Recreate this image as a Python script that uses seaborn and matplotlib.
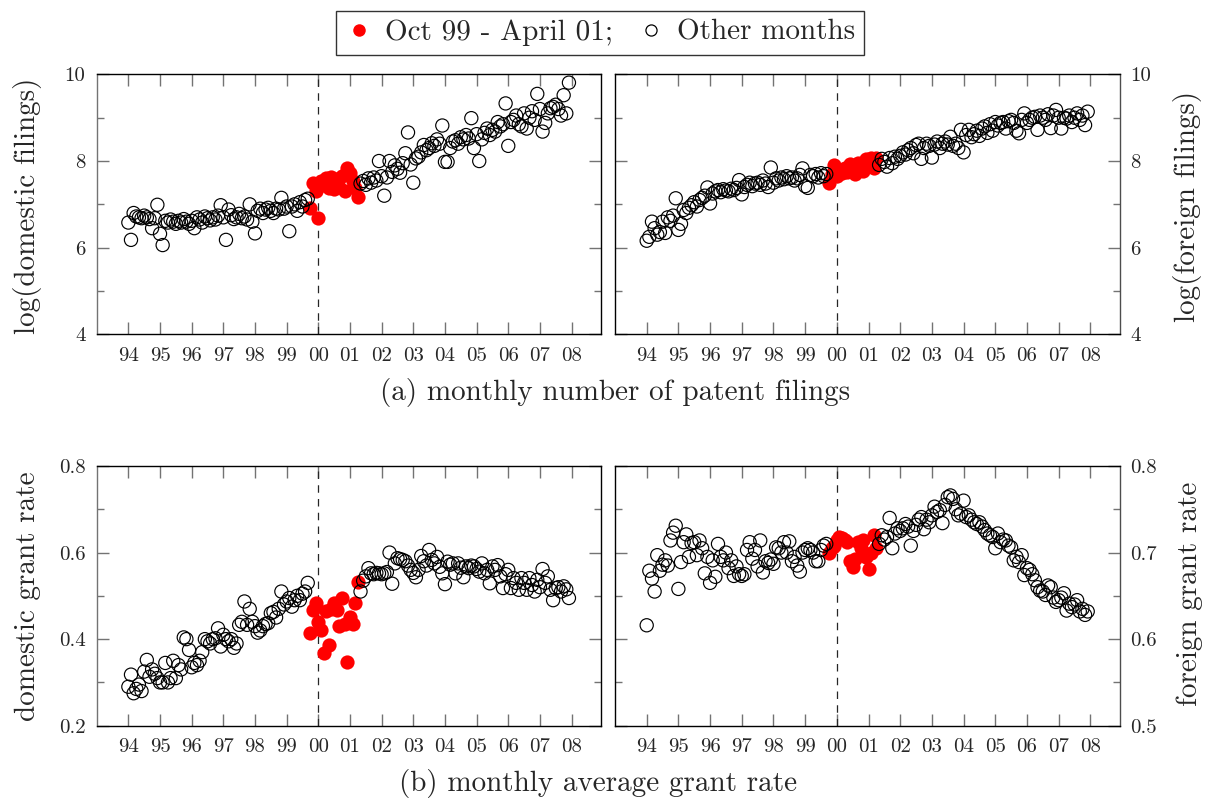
import numpy as np
import pandas as pd
import matplotlib
matplotlib.use('Agg')
import matplotlib.pyplot as plt
from matplotlib.lines import Line2D
import seaborn as sns

# ---------------- data (monthly, Jan 1994 - Dec 2007) ----------------
dom_filings = [
    6.58, 6.18, 6.80, 6.72, 6.70, 6.68, 6.74, 6.70, 6.66, 6.45, 6.68, 6.99,
    6.32, 6.06, 6.62, 6.58, 6.65, 6.60, 6.55, 6.62, 6.58, 6.66, 6.60, 6.55,
    6.62, 6.45, 6.70, 6.65, 6.58, 6.72, 6.68, 6.63, 6.70, 6.65, 6.74, 6.98,
    6.70, 6.18, 6.88, 6.75, 6.66, 6.70, 6.78, 6.68, 6.72, 6.65, 7.00, 6.60,
    6.33, 6.85, 6.90, 6.80, 6.88, 6.92, 6.85, 6.80, 6.90, 6.88, 7.15, 6.90,
    6.95, 6.38, 6.95, 7.00, 6.85, 7.05, 6.95, 7.10, 7.13, 6.91, 7.50, 7.30,
    6.69, 7.55, 7.45, 7.60, 7.38, 7.62, 7.35, 7.58, 7.40, 7.65, 7.30, 7.85,
    7.72, 7.55, 7.38, 7.18, 7.48, 7.54, 7.45, 7.60, 7.50, 7.62, 7.55, 8.00,
    7.65, 7.20, 7.62, 8.00, 7.75, 7.90, 7.82, 7.73, 7.95, 8.18, 8.66, 7.92,
    7.50, 8.06, 8.10, 8.20, 8.37, 8.25, 8.30, 8.41, 8.35, 8.50, 8.40, 8.82,
    7.98, 7.98, 8.30, 8.45, 8.48, 8.40, 8.55, 8.50, 8.60, 8.52, 8.99, 8.30,
    8.62, 8.00, 8.50, 8.65, 8.75, 8.60, 8.72, 8.68, 8.90, 8.80, 8.85, 9.33,
    8.35, 8.90, 8.95, 9.05, 8.85, 8.80, 9.10, 8.75, 9.00, 9.15, 8.95, 9.55,
    9.20, 8.68, 8.88, 9.10, 9.22, 9.25, 9.30, 9.20, 9.05, 9.52, 9.10, 9.81,
]
for_filings = [
    6.16, 6.25, 6.60, 6.45, 6.30, 6.36, 6.60, 6.34, 6.70, 6.62, 6.74, 7.14,
    6.41, 6.55, 6.87, 6.80, 6.92, 6.98, 7.05, 6.95, 7.10, 7.15, 7.20, 7.39,
    7.02, 7.25, 7.30, 7.33, 7.28, 7.35, 7.32, 7.30, 7.36, 7.33, 7.38, 7.56,
    7.23, 7.40, 7.45, 7.50, 7.42, 7.48, 7.50, 7.45, 7.55, 7.48, 7.40, 7.85,
    7.50, 7.60, 7.55, 7.62, 7.58, 7.65, 7.60, 7.62, 7.55, 7.60, 7.68, 7.83,
    7.42, 7.38, 7.68, 7.65, 7.70, 7.62, 7.72, 7.65, 7.70, 7.50, 7.70, 7.90,
    7.65, 7.80, 7.72, 7.85, 7.75, 7.92, 7.80, 7.70, 7.95, 7.85, 7.78, 8.05,
    7.90, 8.08, 7.85, 8.07, 7.91, 8.05, 7.98, 7.87, 8.07, 7.95, 8.10, 8.05,
    8.12, 8.20, 8.15, 8.25, 8.30, 8.18, 8.37, 8.40, 8.05, 8.30, 8.40, 8.35,
    8.08, 8.38, 8.45, 8.30, 8.40, 8.45, 8.38, 8.56, 8.35, 8.40, 8.30, 8.72,
    8.20, 8.60, 8.72, 8.55, 8.62, 8.70, 8.58, 8.75, 8.80, 8.65, 8.85, 8.70,
    8.90, 8.82, 8.88, 8.90, 8.75, 8.92, 8.95, 8.88, 8.70, 8.64, 8.95, 9.10,
    8.88, 8.95, 9.00, 9.02, 8.72, 9.05, 9.00, 8.95, 9.08, 8.76, 9.05, 9.18,
    9.00, 8.75, 9.00, 8.98, 9.05, 8.90, 9.00, 9.10, 8.95, 9.05, 8.83, 9.14,
]
dom_grant = [
    0.290, 0.318, 0.275, 0.285, 0.295, 0.280, 0.325, 0.352, 0.313, 0.330, 0.320, 0.310,
    0.300, 0.300, 0.345, 0.300, 0.310, 0.350, 0.310, 0.340, 0.330, 0.404, 0.400, 0.375,
    0.335, 0.345, 0.340, 0.350, 0.370, 0.400, 0.395, 0.390, 0.400, 0.402, 0.425, 0.383,
    0.410, 0.400, 0.395, 0.400, 0.380, 0.390, 0.433, 0.440, 0.487, 0.433, 0.470, 0.440,
    0.430, 0.415, 0.420, 0.430, 0.435, 0.437, 0.460, 0.463, 0.450, 0.470, 0.510, 0.480,
    0.487, 0.495, 0.475, 0.490, 0.500, 0.490, 0.505, 0.510, 0.530, 0.414, 0.468, 0.483,
    0.440, 0.420, 0.368, 0.464, 0.387, 0.470, 0.483, 0.468, 0.430, 0.495, 0.435, 0.348,
    0.452, 0.435, 0.483, 0.533, 0.510, 0.535, 0.545, 0.564, 0.552, 0.550, 0.553, 0.552,
    0.550, 0.552, 0.555, 0.600, 0.528, 0.575, 0.587, 0.585, 0.583, 0.580, 0.570, 0.560,
    0.553, 0.543, 0.560, 0.592, 0.580, 0.570, 0.606, 0.583, 0.575, 0.590, 0.567, 0.552,
    0.527, 0.579, 0.572, 0.575, 0.552, 0.575, 0.565, 0.543, 0.568, 0.564, 0.570, 0.568,
    0.562, 0.556, 0.575, 0.552, 0.560, 0.529, 0.568, 0.560, 0.571, 0.545, 0.518, 0.550,
    0.560, 0.518, 0.541, 0.530, 0.514, 0.541, 0.530, 0.514, 0.541, 0.525, 0.510, 0.537,
    0.520, 0.562, 0.530, 0.545, 0.514, 0.490, 0.518, 0.520, 0.510, 0.522, 0.515, 0.495,
]
for_grant = [
    0.616, 0.679, 0.670, 0.655, 0.697, 0.679, 0.686, 0.691, 0.685, 0.714, 0.723, 0.731,
    0.658, 0.689, 0.712, 0.721, 0.695, 0.711, 0.712, 0.697, 0.714, 0.705, 0.676, 0.695,
    0.665, 0.691, 0.672, 0.710, 0.695, 0.691, 0.700, 0.682, 0.691, 0.673, 0.684, 0.675,
    0.673, 0.675, 0.703, 0.712, 0.693, 0.703, 0.684, 0.714, 0.677, 0.690, 0.688, 0.692,
    0.687, 0.706, 0.705, 0.700, 0.712, 0.700, 0.713, 0.690, 0.695, 0.685, 0.678, 0.700,
    0.703, 0.705, 0.703, 0.700, 0.690, 0.690, 0.703, 0.708, 0.710, 0.700, 0.705, 0.708,
    0.715, 0.718, 0.717, 0.715, 0.712, 0.690, 0.683, 0.692, 0.712, 0.705, 0.715, 0.695,
    0.681, 0.700, 0.720, 0.705, 0.710, 0.720, 0.715, 0.718, 0.740, 0.705, 0.722, 0.728,
    0.725, 0.728, 0.733, 0.730, 0.708, 0.725, 0.732, 0.738, 0.741, 0.727, 0.738, 0.735,
    0.743, 0.753, 0.747, 0.749, 0.734, 0.755, 0.764, 0.766, 0.762, 0.750, 0.743, 0.745,
    0.760, 0.741, 0.743, 0.738, 0.735, 0.733, 0.735, 0.730, 0.726, 0.722, 0.720, 0.718,
    0.705, 0.722, 0.712, 0.715, 0.714, 0.708, 0.706, 0.691, 0.695, 0.689, 0.697, 0.674,
    0.682, 0.680, 0.675, 0.668, 0.660, 0.656, 0.655, 0.651, 0.662, 0.660, 0.648, 0.643,
    0.645, 0.648, 0.653, 0.633, 0.641, 0.637, 0.640, 0.645, 0.632, 0.635, 0.628, 0.632,
]
year_ticks = list(range(94, 109))
year_labels = ['94', '95', '96', '97', '98', '99', '00', '01', '02', '03',
               '04', '05', '06', '07', '08']
red_start, red_end = '1999-10-01', '2001-04-01'
legend_labels = ['Oct 99 - April 01;', 'Other months']

# ---------------- style ----------------
sns.set_style('ticks')
plt.rcParams['font.family'] = ['cmr10', 'DejaVu Serif']
plt.rcParams['mathtext.fontset'] = 'cm'
plt.rcParams['axes.formatter.use_mathtext'] = True

W, H = 1207, 798
fig = plt.figure(figsize=(W / 100, H / 100), dpi=100)

def px_axes(x0, y0, x1, y1):
    return fig.add_axes([x0 / W, 1 - y1 / H, (x1 - x0) / W, (y1 - y0) / H])

months = pd.date_range('1994-01-01', periods=len(dom_filings), freq='MS')
xpos = (months.year - 1900) + (months.month - 1) / 12.0
is_red = (months >= red_start) & (months <= red_end)

TICK_FS = 15
GRAY = '0.45'

def panel(ax, values, xlim, ylim, major, major_lab, minor, side):
    df = pd.DataFrame({'x': xpos, 'y': values, 'red': is_red})
    sns.scatterplot(data=df[df.red], x='x', y='y', ax=ax, color='#ff0000',
                    s=105, linewidth=0, legend=False, zorder=2)
    sns.scatterplot(data=df[~df.red], x='x', y='y', ax=ax, color='black',
                    s=90, linewidth=0.85, legend=False, zorder=3)
    coll = ax.collections[-1]
    coll.set_facecolor('none')
    coll.set_edgecolor('black')
    ax.axvline(100, color='0.15', lw=0.9, ls=(0, (6, 5)), zorder=1)
    ax.set_xlim(*xlim)
    ax.set_ylim(*ylim)
    ax.set_xticks(year_ticks)
    ax.set_xticklabels(year_labels, fontsize=TICK_FS)
    ax.set_yticks(major)
    ax.set_yticklabels(major_lab, fontsize=TICK_FS)
    ax.set_yticks(minor, minor=True)
    ax.set_xlabel('')
    ax.set_ylabel('')
    ax.tick_params(axis='both', which='both', direction='in', top=True,
                   bottom=True, left=True, right=True, color=GRAY, width=1.0)
    ax.tick_params(axis='both', which='major', length=8.5)
    ax.tick_params(axis='both', which='minor', length=5)
    ax.tick_params(axis='x', pad=9)
    for sp in ax.spines.values():
        sp.set_visible(True)
        sp.set_color('black')
        sp.set_linewidth(1.0)
    if side == 'left':
        ax.tick_params(axis='y', labelleft=True, labelright=False, pad=8)
        ax.spines['left'].set_color(GRAY)
    else:
        ax.tick_params(axis='y', labelleft=False, labelright=True, pad=8)
        ax.spines['right'].set_color('0.3')

XL = (93.0, 108.92)

ax1 = px_axes(96.7, 74.4, 600.7, 334.3)
panel(ax1, dom_filings, XL, (4, 10), [4, 6, 8, 10], ['4', '6', '8', '10'], [5, 7, 9], 'left')
ax2 = px_axes(615, 74.4, 1119.5, 334.3)
panel(ax2, for_filings, XL, (4, 10), [4, 6, 8, 10], ['4', '6', '8', '10'], [5, 7, 9], 'right')
ax3 = px_axes(96.7, 466, 600.7, 725.7)
panel(ax3, dom_grant, XL, (0.2, 0.8), [0.2, 0.4, 0.6, 0.8], ['0.2', '0.4', '0.6', '0.8'],
      [0.3, 0.5, 0.7], 'left')
ax4 = px_axes(615, 466, 1119.5, 725.7)
panel(ax4, for_grant, XL, (0.5, 0.8), [0.5, 0.6, 0.7, 0.8], ['0.5', '0.6', '0.7', '0.8'],
      [0.55, 0.65, 0.75], 'right')

LAB_FS = 21
fig.text(28 / W, 1 - 206 / H, 'log(domestic filings)', rotation=90, ha='center', va='center', fontsize=LAB_FS)
fig.text(1188 / W, 1 - 206 / H, 'log(foreign filings)', rotation=90, ha='center', va='center', fontsize=LAB_FS)
fig.text(28 / W, 1 - 596 / H, 'domestic grant rate', rotation=90, ha='center', va='center', fontsize=LAB_FS)
fig.text(1190 / W, 1 - 594 / H, 'foreign grant rate', rotation=90, ha='center', va='center', fontsize=LAB_FS)
fig.text(615 / W, 1 - 393 / H, '(a) monthly number of patent filings', ha='center', va='center', fontsize=LAB_FS)
fig.text(598 / W, 1 - 783 / H, '(b) monthly average grant rate', ha='center', va='center', fontsize=LAB_FS)

handles = [
    Line2D([], [], ls='none', marker='o', markersize=9, markerfacecolor='#ff0000', markeredgewidth=0),
    Line2D([], [], ls='none', marker='o', markersize=8, markerfacecolor='none',
           markeredgecolor='black', markeredgewidth=0.9),
]
leg = fig.legend(handles, legend_labels, loc='center', bbox_to_anchor=(600 / W, 1 - 32.5 / H),
                 ncol=2, frameon=True, fancybox=False, fontsize=LAB_FS, handletextpad=0.4,
                 columnspacing=0.8, borderpad=0.3, handlelength=1.0)
leg.get_frame().set_edgecolor('black')
leg.get_frame().set_linewidth(1.0)

fig.savefig('out.png', dpi=100)
